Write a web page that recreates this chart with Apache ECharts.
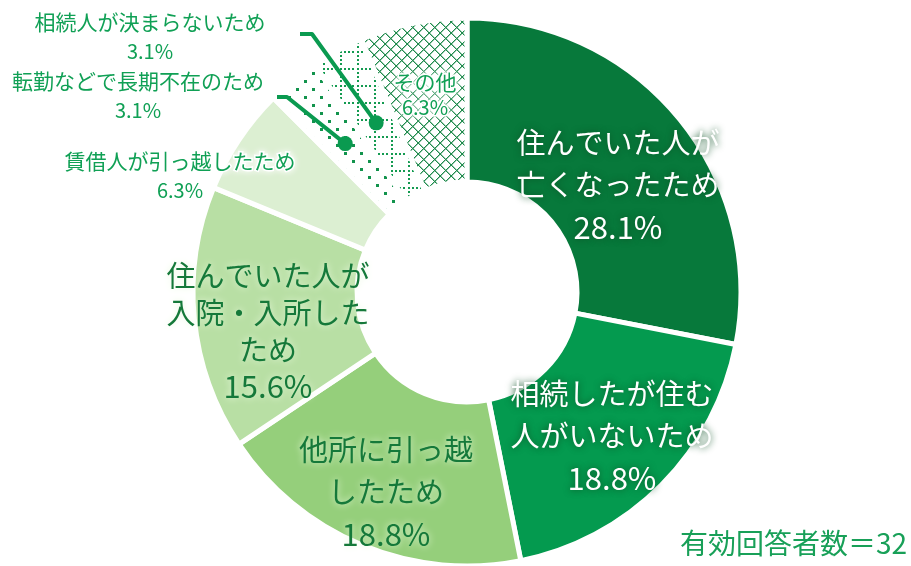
<!DOCTYPE html>
<html>
<head>
<meta charset="utf-8">
<script src="https://cdn.jsdelivr.net/npm/echarts@6/dist/echarts.min.js"></script>
<style>
  html, body { margin: 0; padding: 0; background: #ffffff; }
  #chart { width: 911px; height: 566px; }
</style>
</head>
<body>
<div id="chart"></div>
<script>
// Reasons for the dwelling being vacant (share of valid answers, %)
const categories = [
  '住んでいた人が亡くなったため',
  '相続したが住む人がいないため',
  '他所に引っ越したため',
  '住んでいた人が入院・入所したため',
  '賃借人が引っ越したため',
  '転勤などで長期不在のため',
  '相続人が決まらないため',
  'その他'
];
// How each category name is broken over lines in its label
const labelLines = [
  ['住んでいた人が', '亡くなったため'],
  ['相続したが住む', '人がいないため'],
  ['他所に引っ越', 'したため'],
  ['住んでいた人が', '入院・入所した', 'ため'],
  ['賃借人が引っ越したため'],
  ['転勤などで長期不在のため'],
  ['相続人が決まらないため'],
  ['その他']
];
const shares = [28.1, 18.8, 18.8, 15.6, 6.3, 3.1, 3.1, 6.3];
const respondentsText = '有効回答者数＝32';

// ---- layout / style ----
const CX = 467, CY = 292, R_IN = 110, R_OUT = 274;
const JP = '"Noto Sans CJK JP", "Noto Sans", sans-serif';

// label anchor (centre of the text block) for each slice
const labelPos = [
  [618, 185], [612, 436], [386, 492], [268, 331],
  [180, 176], [138, 96], [150, 37], [425, 95]
];

function tile(size, draw) {
  const c = document.createElement('canvas');
  c.width = c.height = size;
  const g = c.getContext('2d');
  draw(g, size);
  return c;
}
// diamond lattice
const latticeTile = tile(11, (g, n) => {
  g.fillStyle = '#1e8a4c';
  for (let i = 0; i < n; i++) {
    g.fillRect(i, i, 1, 1);
    g.fillRect(n - 1 - i, i, 1, 1);
  }
  g.globalAlpha = 0.45;
  for (let i = 0; i < n; i++) {
    g.fillRect((i + 1) % n, i, 1, 1);
    g.fillRect((n - i) % n, i, 1, 1);
  }
});
// dotted square grid
const gridTile = tile(17, (g, n) => {
  g.fillStyle = '#139a50';
  for (let k = 0; k < n - 1; k += 4) {
    g.fillRect(k, 0, 2, 2);
    g.fillRect(0, k, 2, 2);
  }
});
// sparse staggered dots
const dotTile = tile(16, (g) => {
  g.fillStyle = '#12934d';
  g.fillRect(0, 0, 3, 3);
  g.fillRect(8, 8, 3, 3);
});

const fills = [
  '#07793b', '#049a4f', '#95cf7b', '#b8dfa4', '#dcefd2',
  { image: dotTile, repeat: 'repeat' },
  { image: gridTile, repeat: 'repeat' },
  { image: latticeTile, repeat: 'repeat' }
];

const bigWhite = { color: '#ffffff', shadow: 'rgba(12,80,36,0.95)', border: null };
const bigDark = { color: '#15793a', shadow: 'rgba(232,248,222,1)', border: null };
const smallGreen = { color: '#10a055', shadow: 'rgba(255,255,255,1)', border: '#ffffff' };
const textTheme = [bigWhite, bigWhite, bigDark, bigDark, smallGreen, smallGreen, smallGreen, smallGreen];

function pctText(v) { return v.toFixed(1) + '%'; }

function labelFor(i) {
  const t = textTheme[i];
  const big = i < 4;
  const lh = big ? (i === 3 ? 37 : 42) : (i === 7 ? 25 : 29);
  const nameSize = big ? 29 : 21;
  const pctSize = big ? 31 : 20;
  const common = {
    color: t.color, textShadowColor: t.shadow, textShadowBlur: 7,
    lineHeight: lh, align: 'center'
  };
  if (t.border) {
    common.textBorderColor = t.border;
    common.textBorderWidth = 3;
  }
  return {
    show: true,
    position: 'inside',
    formatter: () => labelLines[i].map(s => '{n|' + s + '}').join('\n') + '\n{p|' + pctText(shares[i]) + '}',
    rich: {
      n: Object.assign({ fontFamily: JP, fontSize: nameSize }, common),
      p: Object.assign({ fontFamily: JP, fontSize: pctSize }, common)
    }
  };
}

const data = categories.map((name, i) => ({
  name: name,
  value: shares[i],
  itemStyle: { color: fills[i] },
  label: labelFor(i),
  labelLine: { show: false }
}));

const chart = echarts.init(document.getElementById('chart'), null, { renderer: 'canvas' });

// leader lines for the two narrow slices: from the text, a short elbow, then to a dot in the slice
const total = shares.reduce((a, b) => a + b, 0);
function midPoint(i) {
  const before = shares.slice(0, i).reduce((a, b) => a + b, 0);
  const mid = (before + shares[i] / 2) / total * 2 * Math.PI;
  const r = (R_IN + R_OUT) / 2;
  return [CX + r * Math.sin(mid), CY - r * Math.cos(mid)];
}
const leaders = [
  { idx: 6, from: [300, 34], elbow: [312, 34] },
  { idx: 5, from: [277, 97], elbow: [287, 97] }
];
const leaderGraphics = [];
leaders.forEach(l => {
  const p = midPoint(l.idx);
  leaderGraphics.push({
    type: 'polyline', z: 20, silent: true,
    shape: { points: [l.from, l.elbow, p] },
    style: { stroke: '#0a9a50', lineWidth: 4, fill: null, lineJoin: 'round' }
  });
  leaderGraphics.push({
    type: 'circle', z: 21, silent: true,
    shape: { cx: p[0], cy: p[1], r: 7.5 },
    style: { fill: '#0a9a50' }
  });
});

chart.setOption({
  animation: false,
  backgroundColor: '#ffffff',
  series: [{
    type: 'pie',
    center: [CX, CY],
    radius: [R_IN, R_OUT],
    startAngle: 90,
    clockwise: true,
    avoidLabelOverlap: false,
    itemStyle: { borderColor: '#ffffff', borderWidth: 5 },
    emphasis: { disabled: true },
    data: data,
    labelLayout: function (params) {
      const pos = labelPos[params.dataIndex];
      return { x: pos[0], y: pos[1], align: 'center', verticalAlign: 'middle' };
    }
  }],
  graphic: leaderGraphics.concat([{
    type: 'text', z: 20, silent: true,
    x: 907, y: 543,
    style: {
      text: respondentsText, fontFamily: JP, fontSize: 28,
      fill: '#18a058', align: 'right', verticalAlign: 'middle'
    }
  }])
});
</script>
</body>
</html>
